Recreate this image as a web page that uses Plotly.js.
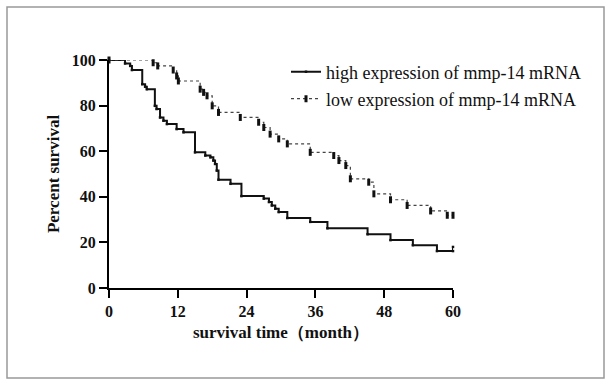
<!DOCTYPE html>
<html>
<head>
<meta charset="utf-8">
<script src="https://cdn.plot.ly/plotly-3.0.1.min.js"></script>
<style>html,body{margin:0;padding:0;background:#fff;}#chart{width:611px;height:385px;}</style>
</head>
<body>
<div id="chart"></div>
<script>
// High expression group (solid line): month, percent survival
var highTime = [0, 2.8, 3.7, 4.0, 5.8, 6.3, 6.6, 8.0, 8.3, 8.9, 9.5, 10.1, 11.8, 13.0, 15.0, 16.8, 17.7, 18.2, 18.5, 18.8, 19.1, 21.2, 23.1, 27.0, 27.9, 28.4, 29.0, 29.6, 31.1, 35.1, 38.1, 45.1, 49.1, 53.0, 57.2, 60, 60];
var highSurv = [100, 98.5, 97.4, 95.6, 89.4, 88.3, 87.2, 79.9, 78.5, 74.8, 73.4, 71.9, 69.7, 68.3, 59.5, 58.1, 57.3, 55.9, 54.4, 51.5, 47.5, 45.7, 40.3, 39.2, 37.7, 36.2, 34.8, 33.3, 30.7, 29.0, 26.2, 23.6, 21.0, 18.8, 16.2, 16.2, 18.0];
// Low expression group (dotted line)
var lowTime = [0, 7.7, 8.5, 11.2, 11.8, 12.1, 15.9, 16.5, 17.1, 18.0, 19.1, 22.9, 26.1, 27.0, 28.1, 29.6, 31.1, 35.1, 39.2, 40.1, 41.3, 42.1, 45.3, 46.2, 49.1, 52.0, 56.1, 59.0, 60];
var lowSurv = [100, 98.8, 97.4, 95.6, 93.0, 90.8, 87.2, 85.8, 84.3, 79.9, 77.0, 74.8, 72.7, 70.4, 67.5, 65.4, 63.2, 59.5, 58.1, 55.9, 53.7, 47.9, 46.4, 41.3, 38.7, 36.2, 33.8, 31.9, 31.9];
var seriesNames = ["high expression of mmp-14 mRNA", "low expression of mmp-14 mRNA"];
var xTicks = [0, 12, 24, 36, 48, 60];
var yTicks = [0, 20, 40, 60, 80, 100];

var serif = "Liberation Serif, Times New Roman, serif";
var L = 109, R = 158, T = 60, B = 97, W = 611, H = 385;
var pw = W - L - R, ph = H - T - B;
function px(xp){ return (xp - L) / pw; }
function py(yp){ return (H - B - yp) / ph; }

var traces = [
  {x: highTime, y: highSurv, name: seriesNames[0], type: 'scatter', mode: 'lines+markers',
   line: {shape: 'hv', color: '#111', width: 2}, marker: {symbol: 'square', size: 2.5, color: '#111'},
   cliponaxis: false, legend: 'legend'},
  {x: lowTime, y: lowSurv, name: seriesNames[1], type: 'scatter', mode: 'lines+markers',
   line: {shape: 'hv', color: '#444', width: 1.2, dash: 'dot'},
   marker: {symbol: 'line-ns', size: 5, color: '#111', line: {color: '#111', width: 3}},
   cliponaxis: false, legend: 'legend2'}
];

var axisCommon = {
  showgrid: false, zeroline: false, showline: true, linecolor: '#000', linewidth: 2,
  ticks: 'outside', ticklen: 8, tickwidth: 2, tickcolor: '#000',
  tickfont: {family: serif, size: 16, color: '#111', weight: 'bold'}
};

var layout = {
  width: W, height: H,
  margin: {l: L, r: R, t: T, b: B},
  paper_bgcolor: '#fff', plot_bgcolor: '#fff',
  xaxis: Object.assign({}, axisCommon, {
    range: [0, 60], tickvals: xTicks, ticktext: xTicks.map(String),
    title: {text: '\u00a0\u00a0\u00a0\u00a0\u00a0\u00a0\u00a0survival time（month）', font: {family: serif, size: 17, color: '#111', weight: 'bold'}, standoff: 7}
  }),
  yaxis: Object.assign({}, axisCommon, {
    range: [0, 100], tickvals: yTicks, ticktext: yTicks.map(String),
    title: {text: 'Percent survival', font: {family: serif, size: 17, color: '#111', weight: 'bold'}, standoff: 8}
  }),
  legend: {x: px(286), y: py(72), xanchor: 'left', yanchor: 'middle', bgcolor: 'rgba(0,0,0,0)',
           font: {family: serif, size: 18, color: '#111'}},
  legend2: {x: px(286), y: py(99), xanchor: 'left', yanchor: 'middle', bgcolor: 'rgba(0,0,0,0)',
           font: {family: serif, size: 18, color: '#111'}},
  showlegend: true,
  shapes: [{type: 'rect', xref: 'paper', yref: 'paper', x0: px(7), x1: px(604), y0: py(378), y1: py(7),
            line: {color: '#999', width: 1.5}, fillcolor: 'rgba(0,0,0,0)', layer: 'below'}]
};

Plotly.newPlot('chart', traces, layout, {displayModeBar: false, staticPlot: true});
</script>
</body>
</html>
